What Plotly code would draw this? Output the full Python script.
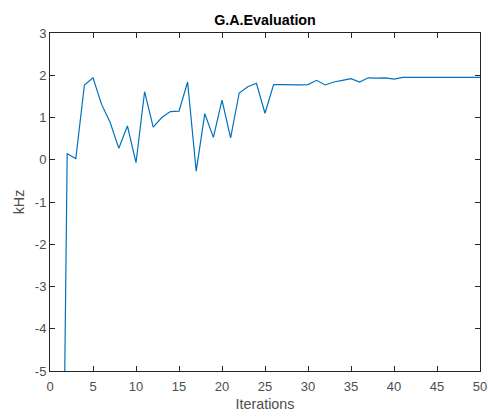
import plotly.graph_objects as go

iterations = list(range(1, 51))
khz = [-18.0, 0.14, 0.03, 1.77, 1.94, 1.31, 0.88, 0.27, 0.80, -0.07,
       1.61, 0.77, 1.00, 1.14, 1.15, 1.84, -0.27, 1.09, 0.53, 1.41,
       0.52, 1.58, 1.73, 1.81, 1.10, 1.78, 1.78, 1.77, 1.77, 1.78,
       1.88, 1.77, 1.84, 1.88, 1.92, 1.84, 1.94, 1.93, 1.94, 1.91,
       1.95, 1.95, 1.95, 1.95, 1.95, 1.95, 1.95, 1.95, 1.95, 1.95]
x_ticks = [0, 5, 10, 15, 20, 25, 30, 35, 40, 45, 50]
y_ticks = [-5, -4, -3, -2, -1, 0, 1, 2, 3]

FONT = "Liberation Sans, Arial, Helvetica"
W, H = 488, 417

fig = go.Figure()
fig.add_trace(go.Scatter(x=iterations, y=khz, mode="lines",
                         line=dict(color="#0072BD", width=1.2),
                         showlegend=False, cliponaxis=True))

axis_common = dict(showline=True, linecolor="#262626", linewidth=1, mirror="ticks",
                   ticks="inside", ticklen=5, tickcolor="#262626", showgrid=False,
                   zeroline=False, automargin=False,
                   tickfont=dict(family=FONT, size=13, color="#4d4d4d"))

fig.update_layout(
    width=W, height=H,
    paper_bgcolor="white", plot_bgcolor="white",
    margin=dict(l=50, r=8, t=33, b=46),
    title=dict(text="<b>G.A.Evaluation</b>", x=(50 + (W - 8 - 50) / 2) / W, xanchor="center",
               y=1 - 20 / H, yanchor="middle",
               font=dict(family=FONT, size=14.3, color="black")),
    xaxis=dict(range=[0, 50], tickvals=x_ticks, ticktext=[str(v) for v in x_ticks],
               ticklabelstandoff=3, ticklabeloverflow="allow",
               title=dict(text="Iterations", standoff=6,
                          font=dict(family=FONT, size=14.3, color="#4d4d4d")),
               **axis_common),
    yaxis=dict(range=[-5, 3], tickvals=y_ticks, ticktext=[str(v) for v in y_ticks],
               title=dict(text="kHz", standoff=6,
                          font=dict(family=FONT, size=14.3, color="#4d4d4d")),
               **axis_common),
)

fig.write_html("out.html", config={"displayModeBar": False},
               post_script="document.body.style.margin='0';document.body.style.overflow='hidden';")
